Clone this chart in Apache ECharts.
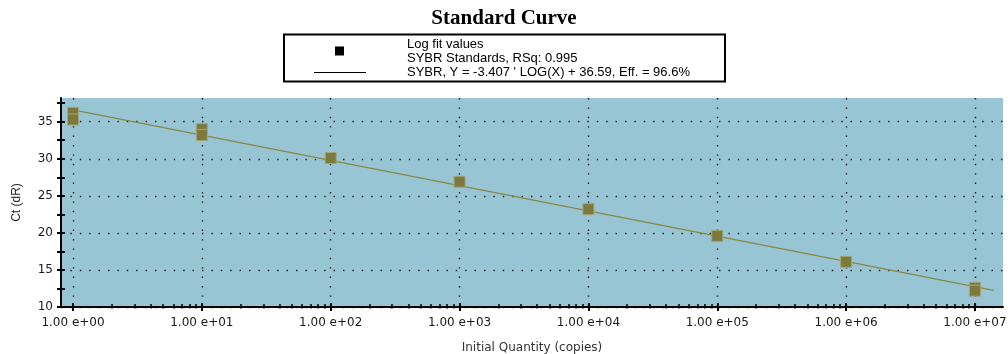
<!DOCTYPE html>
<html>
<head>
<meta charset="utf-8">
<script src="https://cdn.jsdelivr.net/npm/echarts@6/dist/echarts.min.js"></script>
<style>html,body{margin:0;padding:0;background:#fff;}#chart{width:1008px;height:354px;}</style>
</head>
<body>
<div id="chart"></div>
<script>
// ---- data ----
const title = 'Standard Curve';
const legendLines = ['Log fit values', 'SYBR Standards, RSq: 0.995', "SYBR, Y = -3.407 ' LOG(X) + 36.59, Eff. = 96.6%"];
const quantities = [1, 1, 10, 10, 100, 1000, 10000, 100000, 1000000, 10000000, 10000000];
const ctValues   = [36.2, 35.3, 34.0, 33.2, 30.1, 26.9, 23.2, 19.6, 16.1, 12.6, 12.2];
const fitX = [1, 14000000];
const fitY = [36.6, 12.25];
const xMajorTicks = [1, 10, 100, 1000, 10000, 100000, 1000000, 10000000];
const xMinorTicks = [];
xMajorTicks.forEach(d => { for (let k = 2; k <= 9; k++) xMinorTicks.push(k * d); });
const yMajorTicks = [10, 15, 20, 25, 30, 35];
const yMinorTicks = [12.5, 17.5, 22.5, 27.5, 32.5, 37.5];
const xMin = 0.807, xMax = 16500000;
const yMin = 10, yMax = 38.2;
const xName = 'Initial Quantity (copies)';
const yName = 'Ct (dR)';

const fmtX = v => { const e = Math.round(Math.log10(v)); return '1.00 e+' + (e < 10 ? '0' + e : e); };

const chart = echarts.init(document.getElementById('chart'), null, {renderer: 'canvas'});
const dotted = {color: '#1a1a1a', width: 1.4, type: [1.4, 8]};
const baseX = {type: 'log', gridIndex: 0, min: xMin, max: xMax, logBase: 10, position: 'bottom', offset: 0};
const baseY = {type: 'value', gridIndex: 0, min: yMin, max: yMax, position: 'left', offset: 0};

const option = {
  animation: false,
  backgroundColor: '#ffffff',
  grid: {left: 61, right: 5, top: 98, bottom: 47, containLabel: false, outerBoundsMode: 'none', show: true, backgroundColor: '#98c5d4', borderWidth: 0},
  xAxis: [
    Object.assign({}, baseX, {
      axisLine: {show: true, lineStyle: {color: '#000', width: 2}},
      axisTick: {show: true, inside: false, length: 4, customValues: xMajorTicks, lineStyle: {color: '#000', width: 2}},
      axisLabel: {show: true, customValues: xMajorTicks, formatter: fmtX, margin: 10, color: '#1a1a1a', fontSize: 12, fontFamily: 'DejaVu Sans'},
      splitLine: {show: true, lineStyle: dotted},
      minorTick: {show: false},
      name: xName, nameLocation: 'middle', nameGap: 35,
      nameTextStyle: {color: '#333', fontSize: 12, fontFamily: 'DejaVu Sans'}
    }),
    Object.assign({}, baseX, {
      axisLine: {show: false},
      axisTick: {show: true, inside: true, length: 4, customValues: xMajorTicks, lineStyle: {color: '#000', width: 2}},
      axisLabel: {show: false}, splitLine: {show: false}
    }),
    Object.assign({}, baseX, {
      axisLine: {show: false},
      axisTick: {show: true, inside: true, length: 3, customValues: xMinorTicks, lineStyle: {color: '#000', width: 1.5}},
      axisLabel: {show: false}, splitLine: {show: false}
    }),
    Object.assign({}, baseX, {
      axisLine: {show: false},
      axisTick: {show: true, inside: false, length: 1.5, customValues: xMinorTicks, lineStyle: {color: '#000', width: 1.5}},
      axisLabel: {show: false}, splitLine: {show: false}
    })
  ],
  yAxis: [
    Object.assign({}, baseY, {
      axisLine: {show: true, lineStyle: {color: '#000', width: 2}},
      axisTick: {show: true, inside: false, length: 4, customValues: yMajorTicks, lineStyle: {color: '#000', width: 2}},
      axisLabel: {show: true, customValues: yMajorTicks, margin: 8, color: '#1a1a1a', fontSize: 12, fontFamily: 'DejaVu Sans'},
      splitLine: {show: true, lineStyle: dotted},
      name: yName, nameLocation: 'middle', nameGap: 38, nameRotate: 90,
      nameTextStyle: {color: '#222', fontSize: 12, fontFamily: 'Liberation Sans'}
    }),
    Object.assign({}, baseY, {
      axisLine: {show: false},
      axisTick: {show: true, inside: true, length: 4, customValues: yMajorTicks.concat(yMinorTicks), lineStyle: {color: '#000', width: 2}},
      axisLabel: {show: false}, splitLine: {show: false}
    }),
    Object.assign({}, baseY, {
      axisLine: {show: false},
      axisTick: {show: true, inside: false, length: 4, customValues: yMinorTicks, lineStyle: {color: '#000', width: 2}},
      axisLabel: {show: false}, splitLine: {show: false}
    })
  ],
  series: [
    {
      type: 'line', xAxisIndex: 0, yAxisIndex: 0,
      data: fitX.map((x, i) => [x, fitY[i]]),
      showSymbol: false, symbol: 'none',
      lineStyle: {color: '#8a8745', width: 1.3}, z: 2
    },
    {
      type: 'scatter', xAxisIndex: 0, yAxisIndex: 0,
      data: quantities.map((x, i) => [x, ctValues[i]]),
      symbol: 'rect', symbolSize: 11,
      itemStyle: {color: '#7d793a', borderColor: '#a3a57c', borderWidth: 1, opacity: 1}, z: 3
    }
  ],
  graphic: [
    {type: 'text', left: 'center', top: 8, style: {text: title, font: 'bold 21px "Liberation Serif"', fill: '#000'}},
    {type: 'rect', shape: {x: 284, y: 34.5, width: 441, height: 47}, style: {fill: '#fff', stroke: '#000', lineWidth: 2}},
    {type: 'rect', shape: {x: 335, y: 46.5, width: 9, height: 9}, style: {fill: '#000'}},
    {type: 'line', shape: {x1: 314, y1: 72.5, x2: 366, y2: 72.5}, style: {stroke: '#000', lineWidth: 1}},
    {type: 'text', x: 407, y: 44, style: {text: legendLines[0], font: '13px "Liberation Sans"', fill: '#000', verticalAlign: 'middle'}},
    {type: 'text', x: 407, y: 58, style: {text: legendLines[1], font: '13px "Liberation Sans"', fill: '#000', verticalAlign: 'middle'}},
    {type: 'text', x: 407, y: 72, style: {text: legendLines[2], font: '13px "Liberation Sans"', fill: '#000', verticalAlign: 'middle'}}
  ]
};
chart.setOption(option);
</script>
</body>
</html>
